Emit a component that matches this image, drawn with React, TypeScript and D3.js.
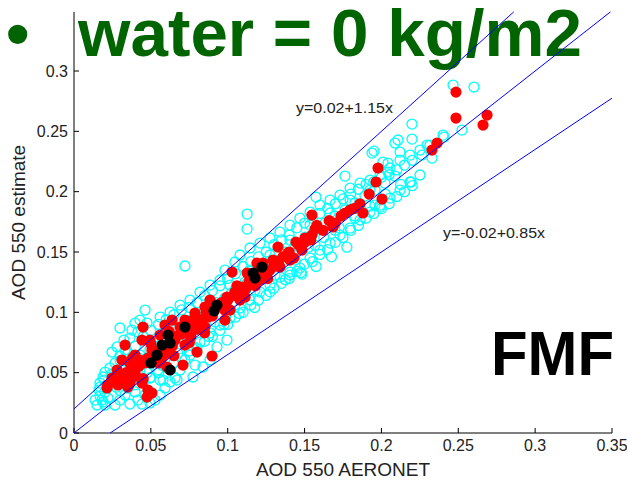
import React from 'react';
import * as d3 from 'd3';

const xTicks = [0, 0.05, 0.1, 0.15, 0.2, 0.25, 0.3, 0.35];
const yTicks = [0, 0.05, 0.1, 0.15, 0.2, 0.25, 0.3];
const fitLines = [
  { a: 0.02, b: 1.15 },
  { a: 0, b: 1 },
  { a: -0.02, b: 0.85 },
];

const cyanPoints: [number, number][] = [
  [0.0137, 0.0273], [0.015, 0.0232], [0.0169, 0.0307], [0.0189, 0.0257], [0.0163, 0.0356],
  [0.0202, 0.034], [0.0221, 0.029], [0.0182, 0.0273], [0.0202, 0.0232], [0.0234, 0.0398],
  [0.0195, 0.0439], [0.0189, 0.0464], [0.0247, 0.0489], [0.0234, 0.0539], [0.0267, 0.058],
  [0.028, 0.0713], [0.0299, 0.0638], [0.0332, 0.0688], [0.0247, 0.0671], [0.0325, 0.077],
  [0.0364, 0.0787], [0.0377, 0.0853], [0.0299, 0.087], [0.0397, 0.0911], [0.0429, 0.0936],
  [0.0475, 0.0911], [0.0416, 0.0837], [0.0202, 0.0505], [0.0169, 0.0414], [0.0169, 0.0381],
  [0.0267, 0.0232], [0.0299, 0.0273], [0.0332, 0.0315], [0.0364, 0.024], [0.0416, 0.0273],
  [0.0442, 0.024], [0.0494, 0.0249], [0.0527, 0.0273], [0.056, 0.0315], [0.0592, 0.0373],
  [0.0625, 0.0423], [0.0657, 0.0456], [0.056, 0.0439], [0.0494, 0.0456], [0.0429, 0.0505],
  [0.0351, 0.0373], [0.0397, 0.034], [0.0546, 0.0522], [0.0462, 0.0315], [0.0579, 0.0439],
  [0.067, 0.0439], [0.0774, 0.0464], [0.0839, 0.0547], [0.093, 0.0713], [0.0995, 0.077],
  [0.0605, 0.0713], [0.0722, 0.0605], [0.0787, 0.0563], [0.0885, 0.0605], [0.069, 0.0522],
  [0.0755, 0.0646], [0.0462, 0.1019], [0.056, 0.0961], [0.0625, 0.1002], [0.069, 0.106],
  [0.0494, 0.0688], [0.056, 0.0729], [0.0429, 0.0646], [0.0364, 0.0563], [0.0299, 0.048],
  [0.0657, 0.0853], [0.0755, 0.0936], [0.0722, 0.0812], [0.0787, 0.0853], [0.082, 0.0936],
  [0.0755, 0.1102], [0.082, 0.1168], [0.0885, 0.1226], [0.095, 0.1268], [0.0982, 0.135],
  [0.1047, 0.1417], [0.108, 0.1475], [0.1145, 0.1533], [0.121, 0.1574], [0.1275, 0.1616],
  [0.134, 0.1665], [0.1405, 0.1723], [0.147, 0.1781], [0.1536, 0.1831], [0.16, 0.1889],
  [0.1666, 0.193], [0.1731, 0.1972], [0.1796, 0.203], [0.1861, 0.2071], [0.1926, 0.2096],
  [0.1991, 0.2138], [0.2056, 0.2196], [0.2121, 0.2262], [0.2186, 0.2303], [0.2251, 0.2345],
  [0.2316, 0.2386],
  [0.082, 0.0754], [0.0885, 0.0829], [0.095, 0.0895], [0.1015, 0.0953], [0.108, 0.1036],
  [0.1145, 0.1102], [0.121, 0.1168], [0.1275, 0.1226], [0.134, 0.1292], [0.1405, 0.1334],
  [0.147, 0.1367], [0.1536, 0.1449], [0.16, 0.1516], [0.1666, 0.1574], [0.1731, 0.164],
  [0.1796, 0.1698], [0.1861, 0.1765], [0.1926, 0.1831], [0.1991, 0.1889], [0.2056, 0.1947],
  [0.2121, 0.2013], [0.2186, 0.208], [0.2251, 0.2138],
  [0.0852, 0.0978], [0.0917, 0.1036], [0.0982, 0.1118], [0.1047, 0.1185], [0.1113, 0.1251],
  [0.1178, 0.1309], [0.1243, 0.1367], [0.1308, 0.1433], [0.1373, 0.15], [0.1438, 0.1557],
  [0.1503, 0.1623], [0.1568, 0.1681], [0.1633, 0.174], [0.1698, 0.1798], [0.1763, 0.1848],
  [0.1828, 0.1906], [0.1893, 0.1964], [0.1958, 0.2013], [0.2023, 0.2071], [0.2088, 0.2129],
  [0.0885, 0.1102], [0.1015, 0.1226], [0.1145, 0.135], [0.1275, 0.1475], [0.1405, 0.1599],
  [0.1536, 0.1723], [0.1666, 0.1823], [0.1796, 0.193], [0.1926, 0.2013],
  [0.0917, 0.092], [0.1047, 0.106], [0.1178, 0.1185], [0.1308, 0.1309], [0.1438, 0.1433],
  [0.1568, 0.1557], [0.1698, 0.1681], [0.1828, 0.1781], [0.1958, 0.1889],
  [0.0722, 0.1384], [0.1126, 0.1814], [0.1126, 0.169], [0.1574, 0.1955], [0.1763, 0.2129],
  [0.2193, 0.208], [0.2108, 0.2428], [0.2088, 0.2403], [0.2121, 0.2328], [0.2199, 0.256],
  [0.2199, 0.2436], [0.1952, 0.2336], [0.2297, 0.2386], [0.2401, 0.2469], [0.2466, 0.2883],
  [0.2602, 0.2867], [0.2524, 0.251], [0.2407, 0.2452], [0.2329, 0.2278], [0.2264, 0.2303],
  [0.2043, 0.2162], [0.201, 0.2245], [0.1939, 0.232], [0.2043, 0.2237], [0.1991, 0.1872],
  [0.1483, 0.1317], [0.1405, 0.1309],
  [0.03, 0.06], [0.035, 0.066], [0.04, 0.072], [0.045, 0.08], [0.05, 0.085],
  [0.055, 0.09], [0.06, 0.094], [0.065, 0.098], [0.07, 0.102], [0.075, 0.104],
  [0.08, 0.108], [0.085, 0.114], [0.09, 0.118], [0.095, 0.122], [0.1, 0.128],
  [0.105, 0.132], [0.11, 0.138], [0.115, 0.142], [0.12, 0.146], [0.125, 0.15],
  [0.13, 0.156], [0.135, 0.16], [0.14, 0.164], [0.145, 0.17], [0.15, 0.174],
  [0.155, 0.178], [0.16, 0.182], [0.165, 0.186], [0.17, 0.19], [0.175, 0.194],
  [0.18, 0.198], [0.185, 0.202], [0.19, 0.206], [0.195, 0.208], [0.2, 0.212],
  [0.205, 0.214], [0.21, 0.218], [0.215, 0.222], [0.22, 0.226],
  [0.03, 0.035], [0.035, 0.038], [0.04, 0.04], [0.045, 0.042], [0.05, 0.046],
  [0.055, 0.05], [0.06, 0.054], [0.065, 0.058], [0.07, 0.062], [0.075, 0.068],
  [0.08, 0.07], [0.085, 0.076], [0.09, 0.08], [0.095, 0.085], [0.1, 0.09],
  [0.105, 0.096], [0.11, 0.1], [0.115, 0.106], [0.12, 0.11], [0.125, 0.114],
  [0.13, 0.12], [0.135, 0.124], [0.14, 0.128], [0.145, 0.134], [0.15, 0.14],
  [0.155, 0.142], [0.16, 0.148], [0.165, 0.152], [0.17, 0.158], [0.175, 0.162],
  [0.18, 0.168], [0.185, 0.172], [0.19, 0.178], [0.195, 0.182], [0.2, 0.186],
  [0.205, 0.19], [0.21, 0.196], [0.215, 0.2], [0.22, 0.205],
  [0.0325, 0.052], [0.0425, 0.062], [0.0525, 0.072], [0.0625, 0.078], [0.0725, 0.09],
  [0.0825, 0.098], [0.0925, 0.108], [0.1025, 0.116], [0.1125, 0.124], [0.1225, 0.128],
  [0.1325, 0.14], [0.1425, 0.148], [0.1525, 0.154], [0.1625, 0.162], [0.1725, 0.17],
  [0.1825, 0.18], [0.1925, 0.188], [0.2025, 0.198], [0.2125, 0.206],
  [0.0275, 0.038], [0.0375, 0.044], [0.0475, 0.05], [0.0575, 0.056], [0.0675, 0.066],
  [0.0775, 0.072], [0.0875, 0.08], [0.0975, 0.09], [0.1075, 0.099], [0.1175, 0.104],
  [0.1275, 0.117], [0.1375, 0.127], [0.1475, 0.133], [0.1575, 0.138], [0.1675, 0.146],
  [0.1775, 0.154],
];

const redPoints: [number, number][] = [
  [0.2485, 0.2825], [0.2485, 0.261], [0.2687, 0.2635], [0.2661, 0.2552], [0.2362, 0.2403],
  [0.2329, 0.2345], [0.1978, 0.2196], [0.1965, 0.208], [0.2004, 0.1939], [0.188, 0.1823],
  [0.1796, 0.1848], [0.1737, 0.1798], [0.1685, 0.1707], [0.1548, 0.1806], [0.1568, 0.169],
  [0.1548, 0.164], [0.1503, 0.1616], [0.1483, 0.1516], [0.1327, 0.1541], [0.1392, 0.1491],
  [0.123, 0.1408], [0.119, 0.1408], [0.1295, 0.1433], [0.134, 0.1375], [0.1028, 0.1334],
  [0.1126, 0.1326], [0.1158, 0.1309], [0.1093, 0.121], [0.1047, 0.1168], [0.1113, 0.1127],
  [0.0995, 0.1127], [0.0885, 0.1102], [0.0852, 0.1044], [0.095, 0.106], [0.0872, 0.0961],
  [0.082, 0.0911], [0.0774, 0.0936], [0.0722, 0.0936], [0.0852, 0.0878], [0.0638, 0.0936],
  [0.0592, 0.0895], [0.069, 0.0878], [0.0787, 0.0994], [0.0449, 0.0878], [0.0442, 0.077],
  [0.0332, 0.0729], [0.0507, 0.0688], [0.0573, 0.063], [0.08, 0.0671], [0.0709, 0.0563],
  [0.0605, 0.0547], [0.0429, 0.0605], [0.0364, 0.058], [0.028, 0.0522], [0.0319, 0.0481],
  [0.0247, 0.0456], [0.0384, 0.0464], [0.0215, 0.0373], [0.0286, 0.0398], [0.0442, 0.0414],
  [0.0481, 0.0356], [0.0507, 0.0331], [0.0475, 0.0298], [0.0364, 0.0414], [0.0898, 0.0638],
  [0.056, 0.0812], [0.0657, 0.077], [0.0722, 0.0729], [0.0494, 0.077], [0.0397, 0.0646],
  [0.0312, 0.0605], [0.0982, 0.0936], [0.1015, 0.1019], [0.108, 0.1102], [0.121, 0.1268],
  [0.1275, 0.135], [0.1405, 0.1433], [0.1444, 0.1582],
  [0.022, 0.04], [0.026, 0.044], [0.03, 0.042], [0.034, 0.05], [0.038, 0.052],
  [0.04, 0.048], [0.042, 0.055], [0.046, 0.058], [0.048, 0.062], [0.052, 0.06],
  [0.054, 0.068], [0.058, 0.07], [0.06, 0.066], [0.064, 0.072], [0.066, 0.08],
  [0.07, 0.082], [0.074, 0.085], [0.076, 0.08], [0.08, 0.086], [0.083, 0.094],
  [0.086, 0.1], [0.09, 0.097], [0.092, 0.104], [0.096, 0.108], [0.098, 0.102],
  [0.1, 0.11], [0.104, 0.114], [0.106, 0.122], [0.108, 0.118], [0.112, 0.12],
  [0.114, 0.126], [0.118, 0.122], [0.12, 0.132], [0.124, 0.134], [0.126, 0.128],
  [0.13, 0.138], [0.133, 0.142], [0.136, 0.146], [0.14, 0.15], [0.143, 0.145],
  [0.146, 0.156], [0.15, 0.158], [0.154, 0.16], [0.158, 0.172], [0.162, 0.168],
  [0.166, 0.176], [0.17, 0.174], [0.176, 0.182], [0.182, 0.186], [0.186, 0.19],
  [0.192, 0.198], [0.035, 0.038], [0.045, 0.045], [0.055, 0.058], [0.065, 0.064],
  [0.075, 0.075], [0.085, 0.083], [0.038, 0.062], [0.05, 0.074], [0.062, 0.084],
  [0.078, 0.092],
];

const blackPoints: [number, number][] = [
  [0.1178, 0.1284], [0.1223, 0.1375], [0.1165, 0.1326], [0.093, 0.106], [0.0911, 0.1011],
  [0.0722, 0.0878], [0.0612, 0.0812], [0.0625, 0.0746], [0.0573, 0.0729], [0.054, 0.0646],
  [0.0501, 0.058], [0.0625, 0.0522],
];

const FONT = '"Liberation Sans", Arial, Helvetica, sans-serif';

export default function App() {
  const x = d3.scaleLinear().domain([0, 0.35]).range([74, 612]);
  const y = d3.scaleLinear().domain([0, 0.3]).range([433, 71]);
  const yMax = 0.349;
  const fmt = (v: number) => (v === 0 ? '0' : String(+v.toFixed(2)));

  const lineGen = d3
    .line<[number, number]>()
    .x((d) => x(d[0]))
    .y((d) => y(d[1]));

  const segs = fitLines.map(({ a, b }) => {
    const x0 = Math.max(0, -a / b);
    const x1 = Math.min(0.35, (yMax - a) / b);
    return lineGen([
      [x0, a + b * x0],
      [x1, a + b * x1],
    ]) as string;
  });

  const r = 5.6;

  return (
    <svg
      width={627}
      height={482}
      style={{ position: 'absolute', left: 0, top: 0, background: '#fff' }}
      fontFamily={FONT}
    >
      <rect x={0} y={0} width={627} height={482} fill="#fff" />
      {/* slide title */}
      <text x={6} y={56} fontSize={67} fontWeight="bold" fill="#006400">
        •
      </text>
      <text x={78} y={56} fontSize={67} fontWeight="bold" fill="#006400" textLength={504} lengthAdjust="spacingAndGlyphs">
        water = 0 kg/m2
      </text>

      {/* axes */}
      <line x1={x(0)} x2={x(0.35)} y1={y(0)} y2={y(0)} stroke="#000" strokeWidth={1} />
      <line x1={x(0)} x2={x(0)} y1={y(0)} y2={y(yMax)} stroke="#000" strokeWidth={1} />
      {xTicks.map((t) => (
        <g key={'xt' + t}>
          <line x1={x(t)} x2={x(t)} y1={y(0)} y2={y(0) - 5} stroke="#000" />
          <text x={x(t)} y={451} fontSize={16} textAnchor="middle" fill="#222">
            {fmt(t)}
          </text>
        </g>
      ))}
      {yTicks.map((t) => (
        <g key={'yt' + t}>
          <line x1={x(0)} x2={x(0) + 5} y1={y(t)} y2={y(t)} stroke="#000" />
          <text x={68} y={y(t) + 5.5} fontSize={16} textAnchor="end" fill="#222">
            {fmt(t)}
          </text>
        </g>
      ))}
      <text x={343} y={476} fontSize={19} textAnchor="middle" fill="#222">
        AOD 550 AERONET
      </text>
      <text
        transform={`translate(25,${(y(0) + y(yMax)) / 2}) rotate(-90)`}
        fontSize={19}
        textAnchor="middle"
        fill="#222"
      >
        AOD 550 estimate
      </text>

      {/* points */}
      {cyanPoints.map((d, i) => (
        <circle key={'c' + i} cx={x(d[0])} cy={y(d[1])} r={5} fill="none" stroke="#00ffff" strokeWidth={1.3} />
      ))}
      {redPoints.map((d, i) => (
        <circle key={'r' + i} cx={x(d[0])} cy={y(d[1])} r={r} fill="#ff0000" />
      ))}
      {blackPoints.map((d, i) => (
        <circle key={'b' + i} cx={x(d[0])} cy={y(d[1])} r={r} fill="#000" />
      ))}

      {/* reference lines */}
      {segs.map((p, i) => (
        <path key={'l' + i} d={p} fill="none" stroke="#0000ff" strokeWidth={1} />
      ))}

      <text x={296} y={113} fontSize={15} fill="#222" textLength={97} lengthAdjust="spacingAndGlyphs">
        y=0.02+1.15x
      </text>
      <text x={443} y={238} fontSize={15} fill="#222" textLength={102} lengthAdjust="spacingAndGlyphs">
        y=-0.02+0.85x
      </text>

      <text x={491} y={375} fontSize={63} fontWeight="bold" fill="#000" textLength={123} lengthAdjust="spacingAndGlyphs">
        FMF
      </text>
    </svg>
  );
}
